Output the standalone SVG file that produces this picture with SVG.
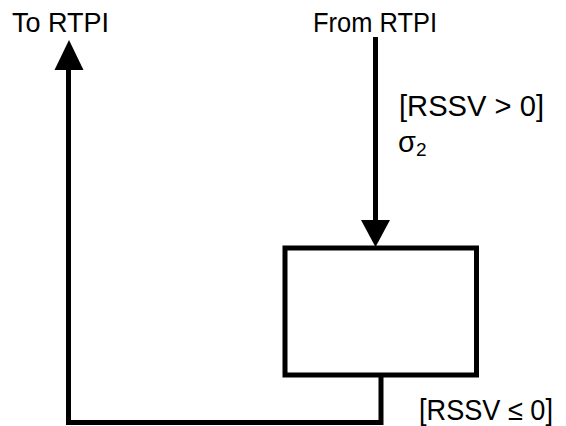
<svg xmlns="http://www.w3.org/2000/svg" width="566" height="426" viewBox="0 0 566 426">
<style>
  text { font-family: "Liberation Sans", Arial, sans-serif; fill: #000; }
  .lbl { font-size: 27px; }
  .cond { font-size: 29px; }
  .edge { fill: none; stroke: #000; stroke-width: 5; }
  .node { fill: #fff; stroke: #000; stroke-width: 5; }
</style>
<rect width="566" height="426" fill="#fff"/>
<g id="to-rtpi">
  <text class="lbl" x="12" y="32" textLength="97" lengthAdjust="spacingAndGlyphs">To RTPI</text>
</g>
<g id="from-rtpi">
  <text class="lbl" x="313" y="32" textLength="124" lengthAdjust="spacingAndGlyphs">From RTPI</text>
</g>
<g id="state">
  <rect class="node" x="285" y="248" width="191.5" height="127"/>
</g>
<g id="connectors">
  <line class="edge" x1="375.5" y1="37" x2="375.5" y2="222"/>
  <polygon points="361,220 390,220 375.5,247" fill="#000"/>
  <polyline class="edge" points="381,377 381,422.5 68.5,422.5 68.5,68"/>
  <polygon points="54.5,70 83.5,70 69,40" fill="#000"/>
  <text class="cond" x="399" y="116" textLength="145" lengthAdjust="spacingAndGlyphs">[RSSV &gt; 0]</text>
  <text class="cond" x="398" y="152">σ<tspan font-size="19" dy="4">2</tspan></text>
  <text class="cond" x="419" y="420" textLength="134" lengthAdjust="spacingAndGlyphs">[RSSV ≤ 0]</text>
</g>
</svg>
